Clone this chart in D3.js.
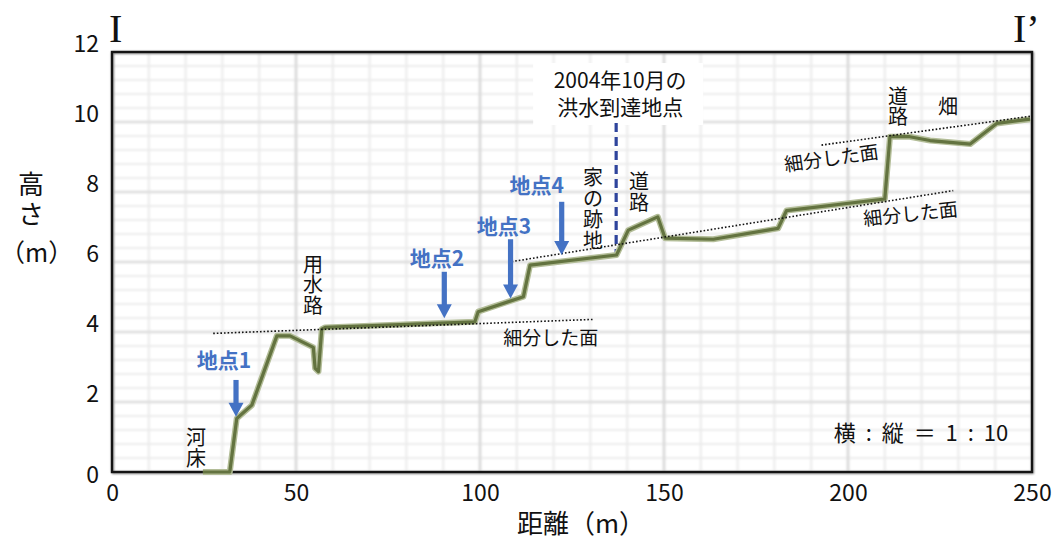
<!DOCTYPE html>
<html lang="ja">
<head>
<meta charset="utf-8">
<script src="https://cdn.jsdelivr.net/npm/d3@7"></script>
<style>
  html, body { margin: 0; padding: 0; background: #fff; }
  svg { display: block; }
  text { fill: #111; }
</style>
</head>
<body>
<svg id="chart" width="1054" height="539"></svg>
<script>
// 地形断面（I - I'）
const profileDist   = [24.7, 32, 33.9, 38, 44.8, 48.4, 54.7, 55.2, 56.1, 57.0, 57.9, 98.6, 99.5, 111.8, 113.6, 137.1, 140.3, 148.3, 150.3, 163.4, 181, 183.3, 210, 211.4, 216.8, 222.3, 233.2, 240.4, 249.5];
const profileHeight = [0, 0, 1.53, 1.91, 3.89, 3.89, 3.56, 2.96, 2.87, 4.08, 4.13, 4.29, 4.58, 5.01, 5.91, 6.2, 6.91, 7.29, 6.68, 6.65, 6.96, 7.47, 7.8, 9.58, 9.58, 9.47, 9.37, 9.96, 10.08];

// 細分した面（点線）: [始点距離, 始点高さ, 終点距離, 終点高さ]
const surfaceLines = [
  [27.5, 3.96, 130.8, 4.36],
  [108.6, 6.01, 228.6, 8.04],
  [192.8, 9.34, 250, 10.17]
];
const surfaceLabels = [
  { text: "細分した面", d: 119.2, h: 3.81, angle: 0 },
  { text: "細分した面", d: 217.0, h: 7.37, angle: -6 },
  { text: "細分した面", d: 195.5, h: 8.96, angle: -8 }
];

// 地点（矢印）
const pointNames = ["地点1", "地点2", "地点3", "地点4"];
const pointDist  = [33.7, 90.3, 108.3, 122.2];
const pointTip   = [1.58, 4.39, 4.96, 6.2];
const pointTail  = [2.63, 5.72, 6.65, 7.72];
const pointLabelDist   = [30.4, 88.3, 106.5, 115.4];
const pointLabelHeight = [3.18, 6.11, 7.01, 8.2];

// 2004年10月の洪水到達地点
const floodDist = 137;
const floodFrom = 6.2;
const floodTo = 9.97;
const floodText = ["2004年10月の", "洪水到達地点"];

// 地物の縦書きラベル
const featureLabels = [
  { text: "河床", d: 22.8, h: 0.97 },
  { text: "用水路", d: 54.6, h: 5.93 },
  { text: "家の跡地", d: 130.7, h: 8.40 },
  { text: "道路", d: 143.2, h: 8.30 },
  { text: "道路", d: 213.6, h: 10.73 },
  { text: "畑", d: 227.2, h: 10.44 }
];

const xTicks = [0, 50, 100, 150, 200, 250];
const yTicks = [0, 2, 4, 6, 8, 10, 12];
const xMinor = d3.range(0, 251, 10);
const yMinor = d3.range(0, 12.01, 0.4);

const JP = "'Noto Sans CJK JP', 'Noto Sans', sans-serif";
const svg = d3.select("#chart").style("font-family", JP);
const x = d3.scaleLinear().domain([0, 250]).range([112, 1032]);
const y = d3.scaleLinear().domain([0, 12]).range([472, 52]);

const defs = svg.append("defs");
defs.append("filter").attr("id", "soft").attr("x", "-5%").attr("y", "-5%").attr("width", "110%").attr("height", "110%")
  .append("feGaussianBlur").attr("stdDeviation", 0.6);
defs.append("filter").attr("id", "gridblur").attr("x", "-5%").attr("y", "-5%").attr("width", "110%").attr("height", "110%")
  .append("feGaussianBlur").attr("stdDeviation", 0.8);
defs.append("filter").attr("id", "shadow").attr("x", "-5%").attr("y", "-5%").attr("width", "110%").attr("height", "110%")
  .append("feGaussianBlur").attr("stdDeviation", 1.2);

// 目盛線
const grid = svg.append("g").attr("filter", "url(#gridblur)");
grid.selectAll("line.ymin").data(yMinor).join("line")
  .attr("x1", x(0)).attr("x2", x(250)).attr("y1", d => y(d)).attr("y2", d => y(d))
  .attr("stroke", "#ececec").attr("stroke-width", 2);
grid.selectAll("line.xmin").data(xMinor).join("line")
  .attr("y1", y(0)).attr("y2", y(12)).attr("x1", d => x(d)).attr("x2", d => x(d))
  .attr("stroke", "#ebebeb").attr("stroke-width", 2);
grid.selectAll("line.ymaj").data(yTicks).join("line")
  .attr("x1", x(0)).attr("x2", x(250)).attr("y1", d => y(d)).attr("y2", d => y(d))
  .attr("stroke", "#dcdcdc").attr("stroke-width", 2.6);
grid.selectAll("line.xmaj").data(xTicks).join("line")
  .attr("y1", y(0)).attr("y2", y(12)).attr("x1", d => x(d)).attr("x2", d => x(d))
  .attr("stroke", "#d8d8d8").attr("stroke-width", 2.6);

// 枠
svg.append("rect").attr("x", x(0) + 1).attr("y", y(12) + 1).attr("width", x(250) - x(0)).attr("height", y(0) - y(12))
  .attr("fill", "none").attr("stroke", "#888").attr("stroke-width", 2).attr("filter", "url(#shadow)");
svg.append("rect").attr("x", x(0)).attr("y", y(12)).attr("width", x(250) - x(0)).attr("height", y(0) - y(12))
  .attr("fill", "none").attr("stroke", "#141414").attr("stroke-width", 2.4);

// 洪水到達地点の注記（白地）
const fx = x(floodDist);
svg.append("rect").attr("x", fx - 83).attr("y", y(floodTo) - 60).attr("width", 170).attr("height", 62).attr("fill", "#fff");
svg.append("text").attr("x", fx + 4).attr("y", y(floodTo) - 35).attr("text-anchor", "middle").style("font-size", "21px")
  .selectAll("tspan").data(floodText).join("tspan")
  .attr("x", fx + 4).attr("dy", (d, i) => i === 0 ? 0 : 27).text(d => d);
svg.append("line").attr("x1", fx).attr("x2", fx).attr("y1", y(floodTo)).attr("y2", y(floodFrom))
  .attr("stroke", "#2e449c").attr("stroke-width", 3.2).attr("stroke-dasharray", "9,5");

// 地形断面線
const line = d3.line().x((d, i) => x(profileDist[i])).y(d => y(d));
svg.append("path").datum(profileHeight).attr("d", line)
  .attr("fill", "none").attr("stroke", "#b3bd98").attr("stroke-width", 6).attr("stroke-linejoin", "round").attr("filter", "url(#soft)");
svg.append("path").datum(profileHeight).attr("d", line)
  .attr("fill", "none").attr("stroke", "#63733f").attr("stroke-width", 3.2).attr("stroke-linejoin", "round").attr("filter", "url(#soft)");

// 細分した面
svg.selectAll("line.surface").data(surfaceLines).join("line")
  .attr("x1", d => x(d[0])).attr("y1", d => y(d[1])).attr("x2", d => x(d[2])).attr("y2", d => y(d[3]))
  .attr("stroke", "#111").attr("stroke-width", 1.6).attr("stroke-dasharray", "1.6,2");
svg.selectAll("text.surface").data(surfaceLabels).join("text")
  .attr("transform", d => `translate(${x(d.d)},${y(d.h)}) rotate(${d.angle})`)
  .attr("text-anchor", "middle").attr("dy", "0.35em").style("font-size", "19px").text(d => d.text);

// 地点の矢印
const blue = "#4472c4";
pointNames.forEach((name, i) => {
  const ax = x(pointDist[i]), tipY = y(pointTip[i]), tailY = y(pointTail[i]);
  const head = 14;
  svg.append("rect").attr("x", ax - 2.6).attr("y", tailY).attr("width", 5.2).attr("height", tipY - tailY - head + 1).attr("fill", blue);
  svg.append("path").attr("d", `M${ax - 7.5},${tipY - head} L${ax + 7.5},${tipY - head} L${ax},${tipY} Z`).attr("fill", blue);
  svg.append("text").attr("x", x(pointLabelDist[i])).attr("y", y(pointLabelHeight[i])).attr("dy", "0.36em")
    .attr("text-anchor", "middle").style("font-size", "21px").style("font-weight", "bold").style("fill", blue).text(name);
});

// 縦書きラベル（1文字ずつ縦に並べる）
featureLabels.forEach(f => {
  const chars = Array.from(f.text);
  svg.append("g").selectAll("text").data(chars).join("text")
    .attr("x", x(f.d)).attr("y", (d, i) => y(f.h) + i * 20.8).attr("dy", "0.36em")
    .attr("text-anchor", "middle").style("font-size", "20px").text(d => d);
});

// 軸
const yAxis = svg.append("g").attr("transform", `translate(${x(0)},0)`)
  .call(d3.axisLeft(y).tickValues(yTicks).tickSize(0).tickPadding(13));
yAxis.select(".domain").remove();
yAxis.selectAll("text").style("font-size", "23px").style("font-family", JP).style("fill", "#111")
  .attr("transform", d => d === 0 ? "translate(0,3)" : "translate(0,-8)");

const xAxis = svg.append("g").attr("transform", `translate(0,${y(0)})`)
  .call(d3.axisBottom(x).tickValues(xTicks).tickSize(0));
xAxis.select(".domain").remove();
xAxis.selectAll("text").style("font-size", "23px").style("font-family", JP).style("fill", "#111")
  .attr("y", 21).attr("dy", "0.35em");

// 軸タイトル
svg.append("text").attr("x", 581).attr("y", 524).attr("dy", "0.35em").attr("text-anchor", "middle").style("font-size", "26px").text("距離（m）");
svg.append("text").attr("x", 31).attr("y", 185).attr("dy", "0.36em").attr("text-anchor", "middle").style("font-size", "26px").text("高");
svg.append("text").attr("x", 31).attr("y", 215).attr("dy", "0.36em").attr("text-anchor", "middle").style("font-size", "26px").text("さ");
svg.append("text").attr("x", 0).attr("y", 253).attr("dy", "0.36em").attr("text-anchor", "start").style("font-size", "25px").text("（m）");

// 断面の端点記号
svg.append("text").attr("x", 109).attr("y", 42).style("font-size", "40px").style("font-family", "'Liberation Serif', 'DejaVu Serif', serif").text("I");
svg.append("text").attr("x", 1013).attr("y", 42).style("font-size", "40px").style("font-family", "'Liberation Serif', 'DejaVu Serif', serif").text("I’");

// 縮尺
svg.append("text").attr("x", 921).attr("y", 433).attr("dy", "0.36em").attr("text-anchor", "middle").style("font-size", "22px")
  .style("word-spacing", "5px").style("white-space", "pre").text("横 : 縦 ＝ 1 : 10");
</script>
</body>
</html>
